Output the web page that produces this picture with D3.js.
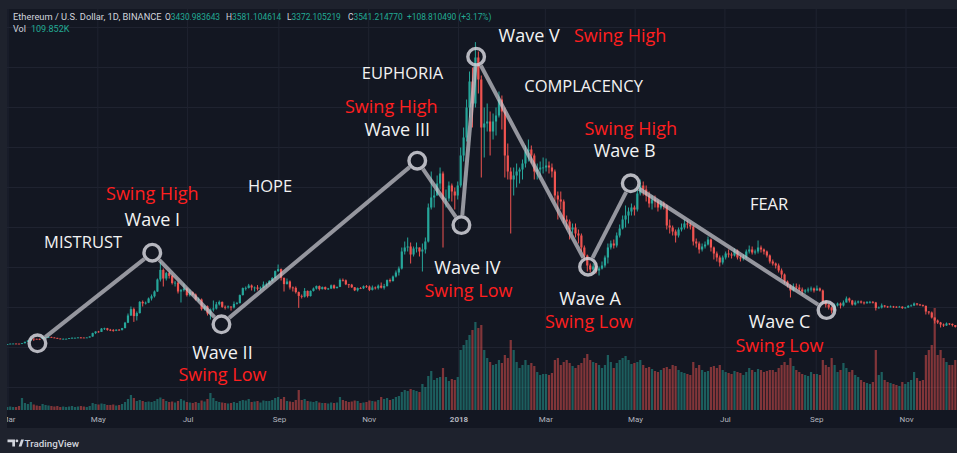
<!DOCTYPE html>
<html><head><meta charset="utf-8">
<script src="https://cdn.jsdelivr.net/npm/d3@7"></script>
<style>
html,body{margin:0;padding:0;background:#ffffff;}
svg{display:block;}
</style></head>
<body>
<svg id="chart" width="957" height="472"></svg>
<script>
// ---------------- DATA ----------------
// 2-day candles, first candle starts on this date; open = previous close
const firstCandleDate = "2017-02-24";
const firstOpen = 13.0;
const closes = [
 13.2,15.5,17.3,
 19.2,19.6,19.1,18.5,21.3,28.5,35.2,44.5,43.2,43.0,42.5,50.4,50.6,53.0,49.8,
 48.0,44.5,43.2,43.5,43.5,46.5,48.5,48.5,50.0,49.5,48.5,50.0,55.0,72.0,80.0,
 78,94.5,96,88.5,87.5,84,89,88,97,124,160,192,157,172,228,221,
 224,245,256,280,340,388,345,372,358,322,324,280,287,295,262,
 276,265,240,240,192,206,170,190,195,216,228,203,202,205,200,
 218,222,262,297,298,310,300,300,294,299,315,317,333,347,382,392,
 348,317,330,300,298,277,258,254,283,257,283,295,307,292,302,
 292,295,311,297,303,338,336,316,314,301,286,297,296,306,305,
 288,300,297,309,299,307,337,332,355,375,395,480,500,505,465,
 495,500,480,490,530,700,750,760,820,870,740,745,810,780,760,810,
 960,1050,1200,1330,1220,1450,1340,1100,1120,1130,1080,1130,1160,1240,1180,
 960,880,840,860,880,890,920,980,990,960,880,890,900,900,
 910,900,880,760,740,730,640,630,590,600,570,560,500,460,410,390,
 405,385,395,410,450,500,520,510,560,595,640,660,680,700,690,
 770,810,790,760,720,740,730,700,720,710,610,600,580,560,590,
 600,620,615,605,530,520,490,505,515,540,500,470,450,425,450,
 470,465,460,485,450,445,450,480,490,475,480,500,490,480,460,430,
 420,410,385,365,330,310,285,305,300,290,280,285,290,295,285,
 295,285,230,215,200,185,210,220,210,225,245,235,215,225,230,
 225,222,227,228,225,198,200,210,205,202,205,204,203,204,197,200,
 208,210,220,215,212,208,180,175,150,135,125,115,110,120,118,
 112,103
];
const highs = [
 13.9,15.8,17.5,
 19.5,19.9,20.5,19.4,21.6,28.9,35.5,47.5,45.0,44.0,44.5,54.5,53.0,54.0,53.5,
 51.0,48.5,45.5,45.0,44.5,47.5,50.5,49.5,51.5,52.0,49.8,51.0,56.0,74.0,81.0,
 83,97,99,98,93,92,91,92,98,128,170,205,200,180,232,235,
 230,250,265,285,345,428,395,378,380,362,333,330,292,320,300,
 290,280,270,250,245,210,210,195,235,228,235,230,210,210,205,
 230,228,265,300,305,318,315,305,312,305,330,325,337,352,385,415,
 395,350,345,335,305,305,280,265,297,285,285,300,310,310,305,
 305,298,315,315,305,345,345,340,318,318,302,300,302,310,312,
 310,310,305,315,325,318,340,345,360,385,405,500,530,550,525,
 505,525,500,520,550,720,880,790,860,900,880,790,830,820,800,830,
 1000,1100,1240,1380,1400,1527,1480,1360,1200,1220,1180,1170,1200,1280,1260,
 1200,1020,900,900,920,900,940,1010,1040,1010,970,920,930,950,
 945,930,920,890,780,780,740,660,640,620,620,590,570,510,465,420,
 420,420,405,430,460,520,535,540,575,615,660,710,700,720,710,
 790,840,830,810,780,760,760,740,735,730,715,640,610,590,600,
 620,640,635,625,610,545,530,520,530,555,545,505,480,460,460,
 480,490,475,495,490,460,465,490,510,505,490,535,510,495,485,465,
 440,425,420,395,370,335,315,320,320,315,300,292,300,305,300,
 310,300,290,235,218,205,220,225,225,235,255,250,238,235,235,
 235,230,232,233,232,228,205,220,212,208,210,208,206,208,206,203,
 212,215,225,222,218,215,210,182,180,150,140,128,120,125,122,
 120,112
];
const lows = [
 12.9,13.1,15.3,
 17.2,18.3,18.9,17.6,18.3,21.0,27.5,35.0,33.0,40.5,37.0,42.5,46.5,47.5,48.5,
 47.0,43.5,42.0,41.5,42.0,43.0,45.0,47.0,48.0,46.5,47.5,48.0,49.5,53.5,67.0,
 74,77.5,87.5,84,82,79,82,84,85,96,122,158,128,135,170,205,
 215,222,235,250,278,330,305,335,345,315,305,270,225,280,255,
 255,260,235,230,185,185,160,140,180,190,210,198,190,195,185,
 195,215,220,260,285,295,285,280,285,285,298,305,315,330,345,378,
 335,280,315,290,280,270,198,245,250,250,255,280,290,285,290,
 288,288,292,292,295,302,330,312,298,298,282,280,292,292,298,
 282,285,290,290,295,290,305,325,330,350,360,390,465,480,420,
 455,475,455,380,470,525,690,700,760,790,500,700,730,730,690,740,
 800,930,1030,1150,1100,1200,1270,850,950,1080,960,1040,1060,1150,1090,
 850,840,570,760,800,820,840,900,930,920,840,840,850,870,
 880,870,850,730,640,690,620,590,540,570,550,520,480,440,380,375,
 370,370,360,390,400,420,490,495,500,550,590,600,620,660,660,
 680,760,760,730,700,690,700,680,690,690,590,570,560,525,550,
 580,590,595,590,510,500,470,480,495,510,480,440,430,405,415,
 440,450,445,455,440,430,435,445,470,465,465,470,475,465,450,420,
 410,395,375,345,320,300,250,280,290,280,265,270,275,280,275,
 285,280,220,200,190,170,180,205,195,205,225,225,210,210,220,
 220,215,218,220,220,185,195,195,200,198,200,198,198,200,193,195,
 198,205,207,210,208,204,165,165,145,120,118,100,103,108,112,
 105,100
];
// volume, thousands
const volumes = [
 30,35,30,
 35,30,30,40,120,70,60,80,55,45,40,60,50,45,40,
 35,40,30,35,30,35,40,30,35,40,35,30,40,70,60,
 55,65,60,50,50,55,45,50,60,80,110,150,120,90,100,90,
 80,85,80,90,110,125,110,90,80,85,75,90,110,95,80,
 75,70,80,70,95,85,110,170,120,90,80,75,70,65,70,
 80,70,90,100,95,110,80,85,90,75,95,90,90,100,120,130,
 110,130,90,85,80,100,200,100,110,90,85,80,90,75,70,
 70,65,75,70,75,130,100,90,80,85,95,90,70,75,80,
 95,90,85,100,130,110,120,100,110,130,140,180,200,190,210,
 200,190,180,260,230,340,390,300,320,330,420,330,290,310,300,330,
 600,650,700,750,800,880,820,850,600,520,480,450,460,500,470,
 550,520,700,600,480,420,450,500,450,470,440,380,350,360,
 360,350,370,500,520,450,480,500,470,440,420,450,470,520,560,500,
 480,470,450,420,450,550,480,420,470,500,520,540,500,460,470,
 480,500,450,420,430,410,390,380,400,420,430,410,450,440,400,
 380,370,360,350,480,420,450,400,380,390,430,440,420,450,400,
 380,370,360,390,380,370,350,380,420,400,380,410,400,380,390,400,
 400,380,420,450,480,450,520,440,400,380,360,350,340,380,360,
 360,350,500,450,430,520,450,380,400,470,420,380,400,350,330,
 300,280,270,260,280,600,350,380,300,280,270,260,250,240,280,260,
 280,300,380,320,290,300,550,600,650,1020,550,600,520,480,450,
 450,500
];

const tickDates = ["2017-03-01","2017-05-01","2017-07-01","2017-09-01","2017-11-01","2018-01-01",
                   "2018-03-01","2018-05-01","2018-07-01","2018-09-01","2018-11-01"];
const tickLabels = ["Mar","May","Jul","Sep","Nov","2018","Mar","May","Jul","Sep","Nov"];
const gridPrices = [-200,0,200,400,600,800,1000,1200,1400,1600];

const waveDates  = ["2017-03-21","2017-06-07","2017-07-24","2017-12-04","2018-01-03","2018-01-13","2018-03-30","2018-04-28","2018-09-08"];
const wavePrices = [21,474,116,934,612,1454,404,821,187];
const waveNames  = ["","Wave I","Wave II","Wave III","Wave IV","Wave V","Wave A","Wave B","Wave C"];
const waveSwings = ["","Swing High","Swing Low","Swing High","Swing Low","Swing High","Swing Low","Swing High","Swing Low"];

const phaseLabels = ["MISTRUST","HOPE","EUPHORIA","COMPLACENCY","FEAR"];
const phaseDates  = ["2017-04-21","2017-08-26","2017-11-24","2018-03-27","2018-07-31"];
const phasePrices = [527.5,807.5,1372.5,1307.5,717.5];

// ---------------- LAYOUT ----------------
const W = 957, H = 453;
const pane = {left: 7, top: 9, right: 957, bottom: 410, axisBottom: 428};
// label offsets (px) relative to each wave circle: [dx,dy] for name and swing text
const nameOffsets  = [null,[0,-33],[1,28],[-20,-31],[6,42],[53,-21],[2,32],[-6,-33],[-47,11]];
const swingOffsets = [null,[0,-59],[1,50],[-26,-54],[7,65],[144,-21],[1,55],[0,-55],[-47,35]];

const parse = d3.utcParse("%Y-%m-%d");
const x = d3.scaleUtc().domain([parse("2017-03-01"), parse("2018-11-01")]).range([8, 906]);
const y = d3.scaleLinear().domain([0, 1500]).range([347.5, 47.5]);
const yv = d3.scaleLinear().domain([0, 1000]).range([410, 310]);

const UP = "#26a69a", DOWN = "#ef5350";
const UPV = "rgba(38,166,154,0.5)", DOWNV = "rgba(239,83,80,0.5)";

const t0 = parse(firstCandleDate);
const candles = closes.map((c, i) => {
  const start = d3.utcDay.offset(t0, 2 * i);
  return {
    t: d3.utcHour.offset(start, 12),
    o: i === 0 ? firstOpen : closes[i - 1],
    c: c, h: highs[i], l: lows[i], v: volumes[i]
  };
});

const svg = d3.select("#chart");
svg.append("rect").attr("width", W).attr("height", H).attr("fill", "#1e222d");
svg.append("rect").attr("x", pane.left).attr("y", pane.top)
  .attr("width", pane.right - pane.left).attr("height", pane.axisBottom - pane.top)
  .attr("fill", "#131722");

const defs = svg.append("defs");
defs.append("clipPath").attr("id", "plotclip").append("rect")
  .attr("x", pane.left).attr("y", pane.top)
  .attr("width", pane.right - pane.left).attr("height", pane.bottom - pane.top);
defs.append("clipPath").attr("id", "axisclip").append("rect")
  .attr("x", pane.left).attr("y", pane.bottom)
  .attr("width", pane.right - pane.left).attr("height", pane.axisBottom - pane.bottom);

const plot = svg.append("g").attr("clip-path", "url(#plotclip)");

// grid
plot.append("g").selectAll("line").data(gridPrices).join("line")
  .attr("x1", pane.left).attr("x2", pane.right)
  .attr("y1", d => y(d)).attr("y2", d => y(d))
  .attr("stroke", "#1f2330").attr("stroke-width", 1);
plot.append("g").selectAll("line").data(tickDates).join("line")
  .attr("x1", d => x(parse(d))).attr("x2", d => x(parse(d)))
  .attr("y1", pane.top).attr("y2", pane.bottom)
  .attr("stroke", "#1f2330").attr("stroke-width", 1);

// volume
const bw = 2.2;
plot.append("g").selectAll("rect").data(candles).join("rect")
  .attr("x", d => x(d.t) - bw / 2).attr("width", bw)
  .attr("y", d => yv(d.v)).attr("height", d => yv(0) - yv(d.v))
  .attr("fill", d => d.c >= d.o ? UPV : DOWNV);

// candles
const cg = plot.append("g");
cg.selectAll("line").data(candles).join("line")
  .attr("x1", d => x(d.t)).attr("x2", d => x(d.t))
  .attr("y1", d => y(d.h)).attr("y2", d => y(d.l))
  .attr("stroke", d => d.c >= d.o ? UP : DOWN).attr("stroke-width", 1);
cg.selectAll("rect").data(candles).join("rect")
  .attr("x", d => x(d.t) - bw / 2).attr("width", bw)
  .attr("y", d => y(Math.max(d.o, d.c)))
  .attr("height", d => Math.max(0.8, Math.abs(y(d.o) - y(d.c))))
  .attr("fill", d => d.c >= d.o ? UP : DOWN);

// wave path
const pts = waveDates.map((d, i) => [x(parse(d)), y(wavePrices[i])]);
const rOut = 10;
const segs = d3.pairs(pts).map(([a, b]) => {
  const dx = b[0] - a[0], dy = b[1] - a[1], L = Math.hypot(dx, dy);
  const ux = dx / L, uy = dy / L;
  return [a[0] + ux * rOut, a[1] + uy * rOut, b[0] - ux * rOut, b[1] - uy * rOut];
});
plot.append("g").selectAll("line").data(segs).join("line")
  .attr("x1", d => d[0]).attr("y1", d => d[1]).attr("x2", d => d[2]).attr("y2", d => d[3])
  .attr("stroke", "rgba(200,200,206,0.72)").attr("stroke-width", 4).attr("stroke-linecap", "butt");
plot.append("g").selectAll("circle").data(pts).join("circle")
  .attr("cx", d => d[0]).attr("cy", d => d[1]).attr("r", 8.3)
  .attr("fill", "none").attr("stroke", "rgba(212,212,218,0.85)").attr("stroke-width", 3.4);

// wave labels
const lab = plot.append("g").attr("font-family", "'Open Sans', sans-serif").attr("text-anchor", "middle");
pts.forEach((p, i) => {
  if (!waveNames[i]) return;
  lab.append("text").attr("x", p[0] + nameOffsets[i][0]).attr("y", p[1] + nameOffsets[i][1])
    .attr("dy", "0.36em").attr("font-size", 18).attr("fill", "#f2f2f2").text(waveNames[i]);
  lab.append("text").attr("x", p[0] + swingOffsets[i][0]).attr("y", p[1] + swingOffsets[i][1])
    .attr("dy", "0.36em").attr("font-size", 18).attr("fill", "#ff1f1f").text(waveSwings[i]);
});
phaseLabels.forEach((t, i) => {
  lab.append("text").attr("x", x(parse(phaseDates[i]))).attr("y", y(phasePrices[i]))
    .attr("dy", "0.36em").attr("font-size", 16.5).attr("fill", "#f2f2f2").text(t);
});

// header legend
const hdr = svg.append("g").attr("font-family", "Roboto, 'Noto Sans', sans-serif").attr("font-size", 8.4);
hdr.append("text").attr("x", 13).attr("y", 19.5).attr("font-size", 9.3).attr("fill", "#d1d4dc")
  .text("Ethereum / U.S. Dollar, 1D, BINANCE");
const ohlc = [["O","3430.983643",165],["H","3581.104614",226],["L","3372.105219",287],["C","3541.214770",348]];
ohlc.forEach(([k, v, px]) => {
  const t = hdr.append("text").attr("x", px).attr("y", 19.5);
  t.append("tspan").attr("fill", "#d1d4dc").text(k);
  t.append("tspan").attr("fill", "#22ab94").text(v);
});
hdr.append("text").attr("x", 407).attr("y", 19.5).attr("fill", "#22ab94").text("+108.810490 (+3.17%)");
hdr.append("text").attr("x", 13).attr("y", 31.5).attr("font-size", 9).attr("fill", "#d1d4dc").text("Vol");
hdr.append("text").attr("x", 31).attr("y", 31.5).attr("font-size", 9).attr("fill", "#22ab94").text("109.852K");

// x axis
const axis = d3.axisBottom(x).tickValues(tickDates.map(parse))
  .tickFormat((d, i) => tickLabels[i]).tickSize(0).tickPadding(6);
const ag = svg.append("g").attr("clip-path", "url(#axisclip)").append("g")
  .attr("transform", `translate(0,${pane.bottom})`).call(axis);
ag.select(".domain").remove();
ag.selectAll("text").attr("font-family", "Roboto, 'Noto Sans', sans-serif").attr("font-size", 8)
  .attr("fill", "#b2b5be").attr("font-weight", (d, i) => tickLabels[i] === "2018" ? "bold" : "normal");

// footer logo
const ft = svg.append("g");
ft.append("path").attr("d", "M7.5,439.5 H15 V446.5 H12.3 V442.2 H7.5 Z").attr("fill", "#d1d4dc");
ft.append("circle").attr("cx", 16.9).attr("cy", 440.9).attr("r", 1.4).attr("fill", "#d1d4dc");
ft.append("path").attr("d", "M18.7,446.5 L21.1,439.5 H23.9 L21.5,446.5 Z").attr("fill", "#d1d4dc");
ft.append("text").attr("x", 24.5).attr("y", 446.5).attr("font-family", "Roboto, 'Noto Sans', sans-serif")
  .attr("font-size", 9.8).attr("font-weight", 500).attr("fill", "#d1d4dc").text("TradingView");
</script>
</body></html>
